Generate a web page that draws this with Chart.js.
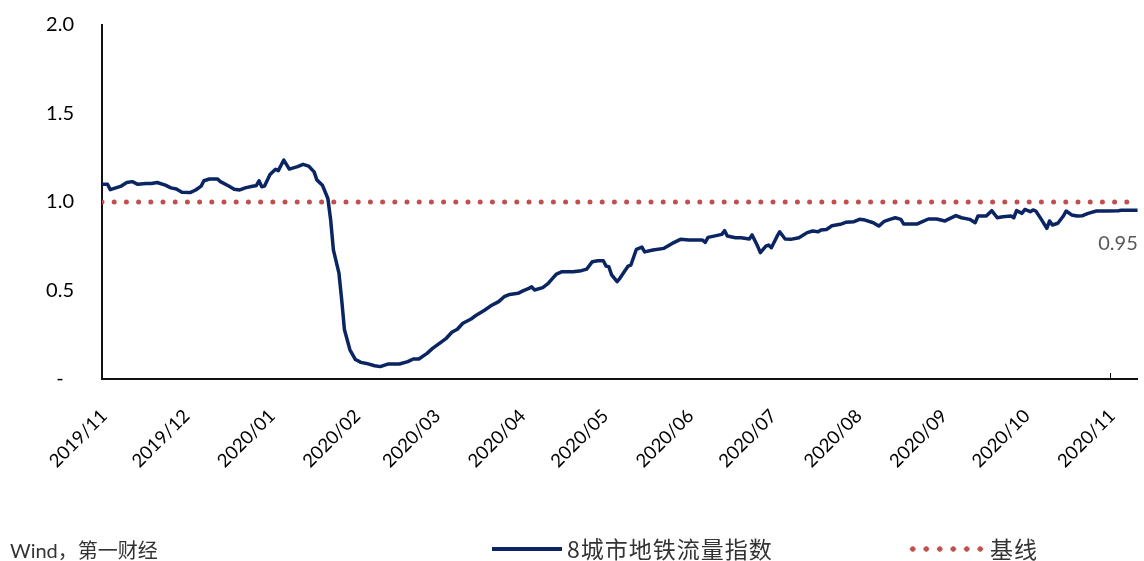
<!DOCTYPE html>
<html>
<head>
<meta charset="utf-8">
<script src="https://cdn.jsdelivr.net/npm/chart.js@4.4.1/dist/chart.umd.min.js"></script>
<style>
  body { margin: 0; background: #fff; }
  #wrap { position: relative; width: 1144px; height: 561px; }
  .note { position: absolute; font-family: Lato, "Noto Sans CJK SC", sans-serif; color: #333; font-size: 20px; line-height: 24px; white-space: nowrap; }
  .cjk { font-family: "Noto Sans CJK SC", sans-serif; font-size: 23px; letter-spacing: 1px; }
  .solid { position: absolute; left: 492px; top: 547px; width: 70px; height: 4px; background: #0A2562; }
  .dots { position: absolute; left: 906px; top: 545px; width: 81px; height: 8px;
          background: radial-gradient(circle, #C0504D 2.4px, rgba(192,80,77,0) 3px) 0 0 / 13.5px 8px repeat-x; }
</style>
</head>
<body>
<div id="wrap">
  <canvas id="chart" width="1144" height="561"></canvas>
  <div class="note" style="left:10px; top:538px;">Wind，第一财经</div>
  <div class="solid"></div>
  <div class="note cjk" style="left:567px; top:536px;">8城市地铁流量指数</div>
  <div class="dots"></div>
  <div class="note cjk" style="left:990px; top:536px;">基线</div>
</div>
<script>
// days counted from 2019-11-01
const days = [0, 2, 3, 5, 7, 9, 11, 13, 16, 18, 20, 23, 25, 27, 29, 32, 34, 36, 37, 39,
  42, 43, 46, 48, 50, 52, 55, 56, 57, 58, 59, 61, 63, 64, 66, 68, 71, 73, 75, 77,
  78, 80, 82, 83, 84, 86, 87, 88, 90, 92, 94, 96, 99, 101, 104, 108, 111, 113, 115, 118,
  120, 122, 125, 127, 129, 131, 134, 136, 139, 141, 144, 146, 148, 151, 153, 155, 156, 157, 160, 162,
  163, 165, 167, 171, 174, 176, 178, 180, 182, 183, 184, 185, 187, 188, 191, 192, 194, 196, 197, 200,
  204, 207, 210, 213, 218, 219, 220, 223, 225, 226, 227, 230, 232, 235, 236, 238, 239, 241, 242, 243,
  245, 246, 248, 250, 253, 256, 258, 260, 261, 263, 265, 268, 270, 273, 275, 277, 280, 282, 284, 286,
  288, 290, 291, 296, 297, 300, 303, 306, 310, 312, 315, 317, 318, 321, 323, 325, 327, 330, 331, 332,
  334, 335, 337, 338, 339, 341, 343, 344, 345, 347, 349, 350, 352, 354, 356, 358, 361, 365, 369, 370, 376];

const metroIndex = [1.10, 1.10, 1.07, 1.08, 1.09, 1.11, 1.115, 1.10, 1.105, 1.105, 1.11, 1.095, 1.08, 1.073, 1.055, 1.053, 1.068, 1.09, 1.12, 1.13,
  1.13, 1.115, 1.09, 1.072, 1.068, 1.08, 1.09, 1.092, 1.12, 1.086, 1.09, 1.155, 1.185, 1.177, 1.237, 1.186, 1.20, 1.213, 1.203, 1.17,
  1.125, 1.095, 1.02, 0.90, 0.73, 0.60, 0.45, 0.28, 0.165, 0.11, 0.094, 0.088, 0.075, 0.070, 0.085, 0.085, 0.098, 0.113, 0.113, 0.145,
  0.173, 0.196, 0.23, 0.264, 0.281, 0.315, 0.339, 0.362, 0.39, 0.412, 0.437, 0.465, 0.478, 0.484, 0.499, 0.512, 0.521, 0.503, 0.516, 0.54,
  0.559, 0.593, 0.606, 0.606, 0.612, 0.621, 0.663, 0.668, 0.668, 0.638, 0.634, 0.588, 0.55, 0.569, 0.638, 0.644, 0.733, 0.745, 0.718, 0.729,
  0.738, 0.766, 0.789, 0.785, 0.785, 0.772, 0.80, 0.81, 0.817, 0.838, 0.808, 0.798, 0.798, 0.791, 0.814, 0.751, 0.714, 0.751, 0.757, 0.742,
  0.804, 0.832, 0.791, 0.789, 0.798, 0.827, 0.836, 0.832, 0.842, 0.845, 0.866, 0.874, 0.885, 0.889, 0.902, 0.898, 0.883, 0.864, 0.891, 0.902,
  0.911, 0.902, 0.876, 0.876, 0.883, 0.904, 0.904, 0.893, 0.923, 0.911, 0.902, 0.883, 0.921, 0.921, 0.951, 0.911, 0.917, 0.921, 0.911, 0.951,
  0.936, 0.958, 0.945, 0.955, 0.949, 0.902, 0.851, 0.893, 0.87, 0.88, 0.921, 0.949, 0.927, 0.921, 0.923, 0.936, 0.949, 0.949, 0.951, 0.953, 0.953];

const baseline = 1.0;

const monthDays = [0, 30, 61, 92, 121, 152, 182, 213, 243, 274, 305, 335, 366];
const monthLabels = ["2019/11", "2019/12", "2020/01", "2020/02", "2020/03", "2020/04", "2020/05",
  "2020/06", "2020/07", "2020/08", "2020/09", "2020/10", "2020/11"];

const lastDay = 376;

const endLabel = {
  id: "endLabel",
  afterDraw(chart) {
    const { ctx, chartArea, scales } = chart;
    const n = metroIndex.length - 1;
    ctx.save();
    ctx.font = "20px Lato";
    ctx.fillStyle = "#595959";
    ctx.textAlign = "right";
    ctx.textBaseline = "middle";
    ctx.fillText(metroIndex[n].toFixed(2), scales.x.getPixelForValue(days[n]), scales.y.getPixelForValue(metroIndex[n]) + 33);
    // the one tick mark on the date axis
    const tx = Math.round(scales.x.getPixelForValue(366)) + 0.5;
    ctx.strokeStyle = "#000";
    ctx.lineWidth = 1;
    ctx.beginPath();
    ctx.moveTo(tx, chartArea.bottom);
    ctx.lineTo(tx, chartArea.bottom - 6);
    ctx.stroke();
    ctx.restore();
  },
};

new Chart(document.getElementById("chart"), {
  type: "line",
  data: {
    datasets: [
      {
        label: "8城市地铁流量指数",
        data: days.map((d, i) => ({ x: d, y: metroIndex[i] })),
        borderColor: "#0A2562",
        borderWidth: 3.5,
        borderJoinStyle: "round",
        pointRadius: 0,
        tension: 0,
      },
      {
        label: "基线",
        data: [{ x: 0, y: baseline }, { x: lastDay, y: baseline }],
        borderColor: "#C0504D",
        borderWidth: 5,
        borderDash: [0, 12.2],
        borderCapStyle: "round",
        pointRadius: 0,
      },
    ],
  },
  options: {
    responsive: false,
    animation: false,
    devicePixelRatio: 1,
    layout: { padding: { top: 25, right: 4, left: 0, bottom: 0 } },
    plugins: {
      legend: { display: false },
      tooltip: { enabled: false },
    },
    scales: {
      x: {
        type: "linear",
        min: 0,
        max: lastDay,
        afterFit: (s) => { s.height = 182; s.paddingTop = 0; s.paddingBottom = 0; },
        afterBuildTicks: (s) => { s.ticks = monthDays.map((v) => ({ value: v })); },
        grid: { display: false },
        border: { display: true, color: "#111", width: 2 },
        ticks: {
          autoSkip: false,
          maxRotation: 45,
          minRotation: 45,
          padding: 18,
          labelOffset: 2,
          color: "#000",
          font: { family: "Lato", size: 18.5 },
          callback: (v) => monthLabels[monthDays.indexOf(v)],
        },
      },
      y: {
        min: 0,
        max: 2,
        afterFit: (s) => { s.width = 102; s.paddingTop = 0; s.paddingBottom = 0; },
        grid: { display: false },
        border: { display: true, color: "#111", width: 2 },
        ticks: {
          stepSize: 0.5,
          padding: 20,
          color: "#000",
          font: { family: "Lato", size: 20 },
          callback: (v) => (v === 0 ? "-  " : v.toFixed(1)),
        },
      },
    },
  },
  plugins: [endLabel],
});
</script>
</body>
</html>
